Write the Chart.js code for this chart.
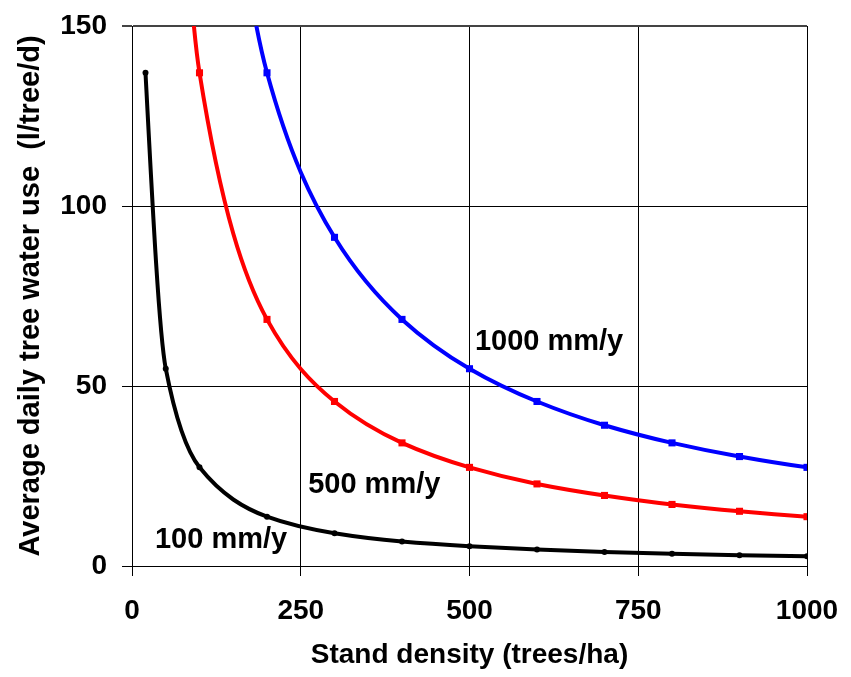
<!DOCTYPE html>
<html>
<head>
<meta charset="utf-8">
<script src="https://cdn.jsdelivr.net/npm/chart.js@4/dist/chart.umd.min.js"></script>
<style>
  html, body { margin: 0; padding: 0; background: #ffffff; }
  #wrap { width: 851px; height: 677px; }
</style>
</head>
<body>
<div id="wrap"><canvas id="c" width="851" height="677"></canvas></div>
<script>
// Stand density (trees/ha) and average daily tree water use (l/tree/d)
const density100 = [20, 50, 100, 200, 300, 400, 500, 600, 700, 800, 900, 1000];
const use100 = [137, 54.8, 27.4, 13.7, 9.1, 6.8, 5.5, 4.6, 3.9, 3.4, 3.0, 2.7];

const density500 = [50, 100, 200, 300, 400, 500, 600, 700, 800, 900, 1000];
const use500 = [274, 137, 68.5, 45.7, 34.2, 27.4, 22.8, 19.6, 17.1, 15.2, 13.7];

const density1000 = [100, 200, 300, 400, 500, 600, 700, 800, 900, 1000];
const use1000 = [274, 137, 91.3, 68.5, 54.8, 45.7, 39.1, 34.2, 30.4, 27.4];

const seriesLabels = ['100 mm/y', '500 mm/y', '1000 mm/y'];
const xTicks = [0, 250, 500, 750, 1000];
const xTickLabels = ['0', '250', '500', '750', '1000'];
const yTicks = [0, 50, 100, 150];
const yTickLabels = ['0', '50', '100', '150'];
const xTitle = 'Stand density (trees/ha)';
const yTitle = 'Average daily tree water use  (l/tree/d)';

function pts(xs, ys) { return xs.map((x, i) => ({ x: x, y: ys[i] })); }

const FONT = "'Liberation Sans', Arial, Helvetica, sans-serif";

// in-plot labels, anchored in data units
const notes = [
  { text: seriesLabels[2], x: 508, y: 62.1 },
  { text: seriesLabels[1], x: 261, y: 22.4 },
  { text: seriesLabels[0], x: 34, y: 7.2 }
];

const notePlugin = {
  id: 'notes',
  afterDatasetsDraw(chart) {
    const ctx = chart.ctx, xs = chart.scales.x, ys = chart.scales.y;
    ctx.save();
    ctx.font = 'bold 29px ' + FONT;
    ctx.fillStyle = '#000';
    ctx.textAlign = 'left';
    ctx.textBaseline = 'middle';
    notes.forEach(n => ctx.fillText(n.text, xs.getPixelForValue(n.x), ys.getPixelForValue(n.y)));
    ctx.restore();
  }
};

// Smooth the library's bezier line with PCHIP (weighted harmonic mean) tangents.
const smoothPlugin = {
  id: 'smooth',
  afterDatasetsUpdate(chart) {
    chart.data.datasets.forEach((d, di) => {
      const meta = chart.getDatasetMeta(di);
      const P = meta.data, n = P.length;
      if (n < 3) return;
      const h = [], s = [];
      for (let i = 0; i < n - 1; i++) {
        h[i] = P[i + 1].x - P[i].x;
        s[i] = (P[i + 1].y - P[i].y) / h[i];
      }
      const m = [];
      for (let i = 1; i < n - 1; i++) {
        if (s[i - 1] * s[i] <= 0) { m[i] = 0; continue; }
        const w1 = 2 * h[i] + h[i - 1], w2 = h[i] + 2 * h[i - 1];
        m[i] = (w1 + w2) / (w1 / s[i - 1] + w2 / s[i]);
      }
      const end = (h0, h1, s0, s1) => {
        let v = ((2 * h0 + h1) * s0 - h0 * s1) / (h0 + h1);
        if (v * s0 <= 0) v = 0;
        else if (s0 * s1 <= 0 && Math.abs(v) > Math.abs(3 * s0)) v = 3 * s0;
        return v;
      };
      m[0] = end(h[0], h[1], s[0], s[1]);
      m[n - 1] = end(h[n - 2], h[n - 3], s[n - 2], s[n - 3]);
      for (let i = 0; i < n; i++) {
        const p = P[i];
        const hl = i > 0 ? h[i - 1] / 3 : 0;
        const hr = i < n - 1 ? h[i] / 3 : 0;
        p.cp1x = p.x - hl; p.cp1y = p.y - hl * m[i];
        p.cp2x = p.x + hr; p.cp2y = p.y + hr * m[i];
      }
      if (meta.dataset) {
        meta.dataset._pointsUpdated = true;
        meta.dataset._path = undefined;
      }
    });
  }
};

Chart.defaults.font.family = FONT;
Chart.defaults.color = '#000';

function ds(label, data, color, style, r) {
  return {
    label: label,
    data: data,
    borderColor: color,
    backgroundColor: color,
    borderWidth: 4,
    pointStyle: style,
    pointRadius: r,
    pointBorderWidth: 0,
    pointHoverRadius: r,
    tension: 0.4,
    capBezierPoints: false,
    fill: false,
    clip: 0
  };
}

new Chart(document.getElementById('c'), {
  type: 'line',
  data: {
    datasets: [
      ds(seriesLabels[0], pts(density100, use100), '#000000', 'circle', 3),
      ds(seriesLabels[1], pts(density500, use500), '#ff0000', 'rect', 5),
      ds(seriesLabels[2], pts(density1000, use1000), '#0000ff', 'rect', 5)
    ]
  },
  options: {
    responsive: false,
    devicePixelRatio: 1,
    animation: false,
    events: [],
    layout: { padding: { top: 26, right: 44, left: 0, bottom: 0 } },
    plugins: { legend: { display: false }, tooltip: { enabled: false } },
    scales: {
      x: {
        type: 'linear',
        min: 0, max: 1000,
        afterFit: s => { s.height = 111; s.paddingLeft = 0; s.paddingRight = 0; },
        afterBuildTicks: s => { s.ticks = xTicks.map(v => ({ value: v })); },
        ticks: {
          font: { size: 28, weight: 'bold' }, padding: 18, maxRotation: 0,
          callback: v => xTickLabels[xTicks.indexOf(v)]
        },
        grid: { color: '#000', lineWidth: 1, tickLength: 10 },
        border: { color: '#000', width: 1 },
        title: { display: true, text: xTitle, font: { size: 28, weight: 'bold' }, padding: { top: 0, bottom: 5 } }
      },
      y: {
        type: 'linear',
        min: 0, max: 150,
        afterFit: s => { s.width = 132; s.paddingTop = 0; s.paddingBottom = 0; },
        afterBuildTicks: s => { s.ticks = yTicks.map(v => ({ value: v })); },
        ticks: {
          font: { size: 28, weight: 'bold' }, padding: 15,
          callback: v => yTickLabels[yTicks.indexOf(v)]
        },
        grid: {
          color: c => (c.tick && c.tick.value === 150) ? '#444' : '#000',
          lineWidth: c => (c.tick && c.tick.value === 150) ? 2 : 1,
          tickLength: 10
        },
        border: { color: '#000', width: 1 },
        title: { display: true, text: yTitle, font: { size: 29, weight: 'bold' }, padding: { top: 14, bottom: 0 } }
      }
    }
  },
  plugins: [smoothPlugin, notePlugin]
});
</script>
</body>
</html>
